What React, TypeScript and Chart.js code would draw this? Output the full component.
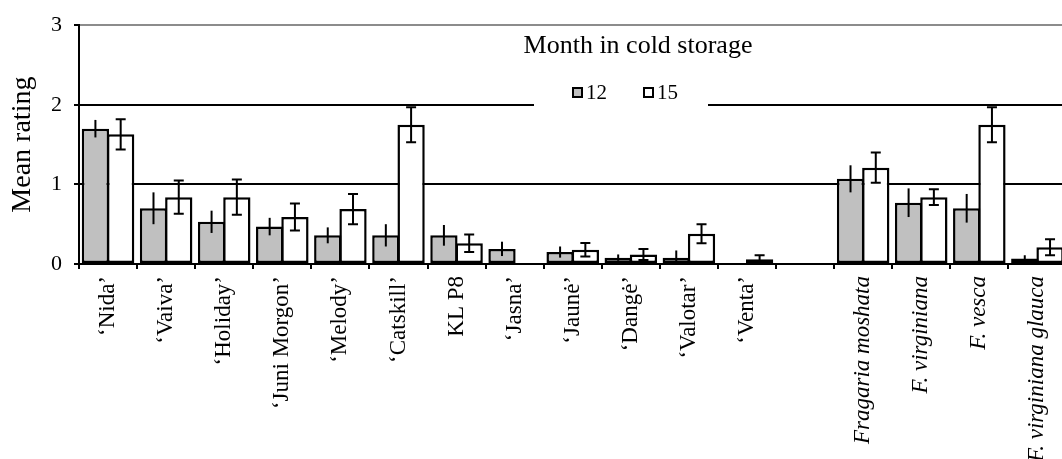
import React, { useEffect, useRef } from "react";
import { Chart, registerables } from "chart.js";

Chart.register(...registerables);

const categories = [
  "‘Nida’",
  "‘Vaiva’",
  "‘Holiday’",
  "‘Juni Morgon’",
  "‘Melody’",
  "‘Catskill’",
  "KL P8",
  "‘Jasna’",
  "‘Jaunė’",
  "‘Dangė’",
  "‘Valotar’",
  "‘Venta’",
  "",
  "Fragaria moshata",
  "F. virginiana",
  "F. vesca",
  "F. virginiana glauca",
];
const italicFromIndex = 13;

const seriesLabels = ["12", "15"];
const month12 = [1.7, 0.7, 0.53, 0.47, 0.36, 0.36, 0.36, 0.19, 0.15, 0.08, 0.08, 0, null, 1.07, 0.77, 0.7, 0.07];
const err12 = [0.11, 0.2, 0.14, 0.11, 0.1, 0.14, 0.13, 0.09, 0.07, 0.04, 0.09, 0, null, 0.17, 0.18, 0.18, 0.04];
const month15 = [1.63, 0.84, 0.84, 0.59, 0.69, 1.75, 0.26, 0, 0.18, 0.12, 0.38, 0.06, null, 1.21, 0.84, 1.75, 0.21];
const err15 = [0.19, 0.21, 0.22, 0.17, 0.19, 0.22, 0.11, 0, 0.085, 0.07, 0.12, 0.05, null, 0.19, 0.1, 0.22, 0.1];

const yMin = 0;
const yMax = 3;
const yStep = 1;
const yTitle = "Mean rating";
const legendTitle = "Month in cold storage";

const FONT = "'Liberation Serif', 'Times New Roman', serif";
const GREY = "#c0c0c0";

const errorBarsPlugin = {
  id: "errorBars",
  afterDatasetsDraw(chart: any) {
    const { ctx } = chart;
    const yScale = chart.scales.y;
    chart.data.datasets.forEach((ds: any, di: number) => {
      const meta = chart.getDatasetMeta(di);
      meta.data.forEach((bar: any, i: number) => {
        const v = ds.data[i];
        const e = ds.errors[i];
        if (v == null || !e) return;
        const top = yScale.getPixelForValue(v + e);
        const bot = yScale.getPixelForValue(Math.max(0, v - e));
        const cap = ds.capWidth;
        ctx.save();
        ctx.strokeStyle = "#000";
        ctx.lineWidth = 2;
        ctx.beginPath();
        ctx.moveTo(bar.x, top);
        ctx.lineTo(bar.x, bot);
        if (cap) {
          ctx.moveTo(bar.x - cap / 2, top);
          ctx.lineTo(bar.x + cap / 2, top);
          ctx.moveTo(bar.x - cap / 2, bot);
          ctx.lineTo(bar.x + cap / 2, bot);
        }
        ctx.stroke();
        ctx.restore();
      });
    });
  },
};

const legendPlugin = {
  id: "innerLegend",
  beforeDatasetsDraw(chart: any) {
    const { ctx, chartArea } = chart;
    const yScale = chart.scales.y;
    const L = chartArea.left;
    const y2 = yScale.getPixelForValue(2);
    ctx.save();
    // white box interrupting the gridline behind the legend
    ctx.fillStyle = "#fff";
    ctx.fillRect(L + 455, y2 - 4, 174, 8);
    // title
    ctx.fillStyle = "#000";
    ctx.font = `26px ${FONT}`;
    ctx.textAlign = "center";
    ctx.textBaseline = "alphabetic";
    ctx.fillText(legendTitle, L + 559, 53);
    // items
    const items = [
      { x: L + 493, fill: GREY, label: seriesLabels[0] },
      { x: L + 564, fill: "#fff", label: seriesLabels[1] },
    ];
    ctx.font = `21px ${FONT}`;
    ctx.textAlign = "left";
    items.forEach((it) => {
      ctx.fillStyle = it.fill;
      ctx.fillRect(it.x, 87, 11, 11);
      ctx.strokeStyle = "#000";
      ctx.lineWidth = 2;
      ctx.strokeRect(it.x + 1, 88, 9, 9);
      ctx.fillStyle = "#000";
      ctx.fillText(it.label, it.x + 14, 99);
    });
    ctx.restore();
  },
};

export default function App() {
  const canvasRef = useRef<HTMLCanvasElement | null>(null);

  useEffect(() => {
    if (!canvasRef.current) return;
    const chart = new Chart(canvasRef.current, {
      type: "bar",
      data: {
        labels: categories,
        datasets: [
          {
            label: seriesLabels[0],
            data: month12,
            errors: err12,
            capWidth: 0,
            backgroundColor: GREY,
            borderColor: "#000",
            borderWidth: 2.5,
            borderSkipped: false,
            categoryPercentage: 0.87,
            barPercentage: 1.08,
          } as any,
          {
            label: seriesLabels[1],
            data: month15,
            errors: err15,
            capWidth: 10,
            backgroundColor: "#fff",
            borderColor: "#000",
            borderWidth: 2.5,
            borderSkipped: false,
            categoryPercentage: 0.87,
            barPercentage: 1.08,
          } as any,
        ],
      },
      options: {
        responsive: false,
        animation: false,
        layout: { padding: { top: 19, left: 0, right: 0, bottom: 0 } },
        plugins: {
          legend: { display: false },
          tooltip: { enabled: false },
        },
        scales: {
          x: {
            offset: true,
            grid: {
              display: true,
              drawOnChartArea: false,
              drawTicks: true,
              tickLength: 5,
              color: "#000",
              lineWidth: 2,
              offset: true,
            },
            border: { display: true, color: "#000", width: 2 },
            ticks: {
              autoSkip: false,
              maxRotation: 90,
              minRotation: 90,
              padding: 7,
              color: "#000",
              font: (ctx: any) => ({
                family: FONT,
                size: 23,
                style: ctx.index >= italicFromIndex ? "italic" : "normal",
              }),
            },
            afterFit: (s: any) => {
              s.height = 195;
            },
          },
          y: {
            min: yMin,
            max: yMax,
            ticks: {
              stepSize: yStep,
              padding: 12,
              color: "#000",
              font: { family: FONT, size: 22 },
            },
            grid: {
              color: (ctx: any) => (ctx.tick && ctx.tick.value === yMax ? "#8c8c8c" : "#000"),
              lineWidth: 2,
              drawTicks: true,
              tickLength: 5,
              tickColor: "#000",
            },
            border: { display: true, color: "#000", width: 2 },
            title: {
              display: true,
              text: yTitle,
              color: "#000",
              font: { family: FONT, size: 28 },
              padding: { top: 6, bottom: 0 },
            },
            afterFit: (s: any) => {
              s.width = 79;
            },
          },
        },
      } as any,
      plugins: [legendPlugin, errorBarsPlugin],
    });
    return () => chart.destroy();
  }, []);

  return (
    <div
      style={{
        position: "fixed",
        left: 0,
        top: 0,
        width: 1062,
        height: 459,
        overflow: "hidden",
        background: "#fff",
      }}
    >
      <canvas ref={canvasRef} width={1072} height={459} style={{ display: "block" }} />
    </div>
  );
}
